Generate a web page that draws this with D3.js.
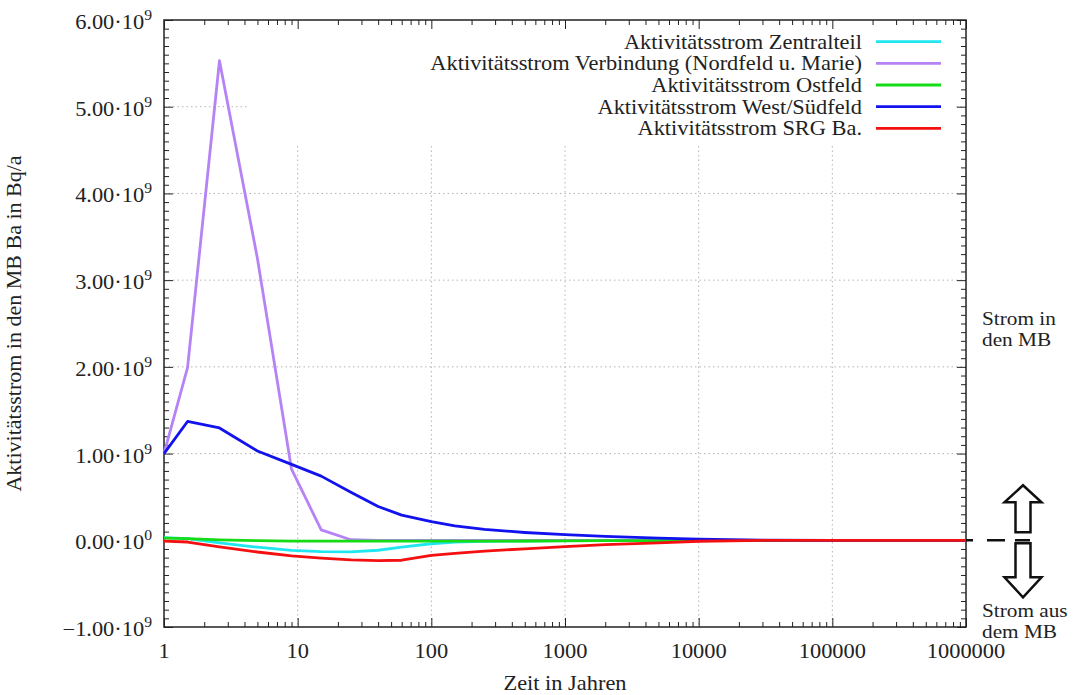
<!DOCTYPE html>
<html>
<head>
<meta charset="utf-8">
<script src="https://cdn.jsdelivr.net/npm/d3@7"></script>
<style>
body { margin: 0; background: #fff; }
text { font-family: "Liberation Serif", "Times New Roman", serif; fill: #222; }
.axis path { display: none; }
.axis line { stroke: #222; stroke-width: 1; }
.grid line { stroke: #b4b4b4; stroke-width: 1; stroke-dasharray: 1.5,3; }
.line { fill: none; stroke-width: 2.8; stroke-linejoin: round; }
</style>
</head>
<body>
<script>
// Zeit in Jahren
var years = [1, 1.5, 2.6, 5, 9, 15, 25, 40, 60, 100, 150, 250, 500, 1000, 2000, 5000, 10000, 30000, 100000, 1000000];
// Aktivitätsstrom in 1e9 Bq/a
var zentralteil = [0.03, 0.02, -0.03, -0.08, -0.117, -0.13, -0.133, -0.115, -0.08, -0.04, -0.02, -0.012, -0.008, -0.005, -0.003, -0.001, 0, 0, 0, 0];
var verbindung = [1.0, 1.99, 5.53, 3.25, 0.82, 0.12, 0.006, 0, 0, 0, 0, 0, 0, 0, 0, 0, 0, 0, 0, 0];
var ostfeld = [0.025, 0.02, 0.005, -0.005, -0.01, -0.01, -0.01, -0.01, -0.01, -0.01, -0.01, -0.01, -0.008, -0.006, -0.005, -0.003, -0.001, 0, 0, 0];
var westSued = [1.0, 1.37, 1.295, 1.03, 0.875, 0.74, 0.555, 0.39, 0.29, 0.215, 0.165, 0.125, 0.09, 0.065, 0.045, 0.025, 0.013, 0.002, 0, 0];
var srgBa = [-0.01, -0.02, -0.075, -0.135, -0.18, -0.205, -0.225, -0.235, -0.23, -0.175, -0.15, -0.125, -0.098, -0.072, -0.05, -0.029, -0.011, 0, 0, 0];

var seriesNames = ["Aktivitätsstrom Zentralteil", "Aktivitätsstrom Verbindung (Nordfeld u. Marie)",
    "Aktivitätsstrom Ostfeld", "Aktivitätsstrom West/Südfeld", "Aktivitätsstrom SRG Ba."];
var seriesValues = [zentralteil, verbindung, ostfeld, westSued, srgBa];
var seriesColors = ["#20e6f0", "#b683f5", "#16dc16", "#1212ee", "#f41010"];

var xTicks = [1, 10, 100, 1000, 10000, 100000, 1000000];
var xTickLabels = ["1", "10", "100", "1000", "10000", "100000", "1000000"];
var yTicks = [-1, 0, 1, 2, 3, 4, 5, 6];
var yTickLabels = ["\u22121.00\u00b710", "0.00\u00b710", "1.00\u00b710", "2.00\u00b710", "3.00\u00b710", "4.00\u00b710", "5.00\u00b710", "6.00\u00b710"];
var yTickExp = ["9", "0", "9", "9", "9", "9", "9", "9"];

var W = 1073, H = 695;
var margin = {top: 20, right: 107, bottom: 68, left: 164}
    , width = W - margin.left - margin.right
    , height = H - margin.top - margin.bottom;
var SX = 1.12, FS = 20;

var svg = d3.select("body").append("svg")
    .attr("width", W)
    .attr("height", H)
    .append("g")
    .attr("transform", "translate(" + margin.left + "," + margin.top + ")");

var x = d3.scaleLog().domain([1, 1000000]).range([0, width]);
var y = d3.scaleLinear().domain([-1, 6]).range([height, 0]);

// horizontally stretched serif text like the original
function stext(parent, px, py, anchor, size) {
    return parent.append("text")
        .attr("transform", "translate(" + px + "," + py + ") scale(" + SX + ",1)")
        .attr("text-anchor", anchor)
        .style("font-size", size + "px");
}

// grid
svg.append("g").attr("class", "grid").selectAll("line")
    .data(xTicks.slice(1, -1)).enter().append("line")
    .attr("x1", function(d) { return x(d); })
    .attr("x2", function(d) { return x(d); })
    .attr("y1", 0).attr("y2", height);
svg.append("g").attr("class", "grid").selectAll("line")
    .data(yTicks.slice(1, -1)).enter().append("line")
    .attr("x1", 0).attr("x2", width)
    .attr("y1", function(d) { return y(d); })
    .attr("y2", function(d) { return y(d); });

// legend box hides the grid
svg.append("rect")
    .attr("x", 83).attr("y", 0)
    .attr("width", 708).attr("height", 123)
    .attr("fill", "#fff");

// ticks (inward, mirrored)
var xMinor = [];
xTicks.slice(0, -1).forEach(function(t) {
    for (var m = 2; m <= 9; m++) xMinor.push(t * m);
});
var yMinor = d3.range(-10, 61).map(function(i) { return i / 10; })
    .filter(function(v) { return Math.abs(v - Math.round(v)) > 1e-9; });

svg.append("g").attr("class", "axis").attr("transform", "translate(0," + height + ")")
    .call(d3.axisBottom(x).tickValues(xTicks).tickSize(-9).tickFormat(""));
svg.append("g").attr("class", "axis").attr("transform", "translate(0," + height + ")")
    .call(d3.axisBottom(x).tickValues(xMinor).tickSize(-5).tickFormat(""));
svg.append("g").attr("class", "axis")
    .call(d3.axisTop(x).tickValues(xTicks).tickSize(-9).tickFormat(""));
svg.append("g").attr("class", "axis")
    .call(d3.axisTop(x).tickValues(xMinor).tickSize(-5).tickFormat(""));
svg.append("g").attr("class", "axis")
    .call(d3.axisLeft(y).tickValues(yTicks).tickSize(-9).tickFormat(""));
svg.append("g").attr("class", "axis")
    .call(d3.axisLeft(y).tickValues(yMinor).tickSize(-5).tickFormat(""));
svg.append("g").attr("class", "axis").attr("transform", "translate(" + width + ",0)")
    .call(d3.axisRight(y).tickValues(yTicks).tickSize(-9).tickFormat(""));
svg.append("g").attr("class", "axis").attr("transform", "translate(" + width + ",0)")
    .call(d3.axisRight(y).tickValues(yMinor).tickSize(-5).tickFormat(""));

svg.append("rect")
    .attr("width", width).attr("height", height)
    .attr("fill", "none").attr("stroke", "#222").attr("stroke-width", 1.5);

// tick labels
xTicks.forEach(function(t, i) {
    stext(svg, x(t), height + 31, "middle", FS).text(xTickLabels[i]);
});
yTicks.forEach(function(v, i) {
    var t = stext(svg, -12, y(v) + 9, "end", FS);
    t.append("tspan").text(yTickLabels[i]);
    t.append("tspan").attr("dy", -9).style("font-size", "14px").text(yTickExp[i]);
});

// axis titles
stext(svg, width / 2, height + 63, "middle", FS).text("Zeit in Jahren");
svg.append("text")
    .attr("transform", "translate(-143," + (y(2.5)) + ") rotate(-90)")
    .attr("text-anchor", "middle")
    .style("font-size", "22px")
    .text("Aktivitätsstrom in den MB Ba in Bq/a");

// curves
var line = d3.line()
    .x(function(d) { return x(d[0]); })
    .y(function(d) { return y(d[1]); });

svg.selectAll(".line")
    .data(seriesValues)
    .enter()
    .append("path")
    .attr("class", "line")
    .attr("d", function(d) { return line(d.map(function(v, i) { return [years[i], v]; })); })
    .attr("stroke", function(d, i) { return seriesColors[i]; });

// legend
seriesNames.forEach(function(name, i) {
    var ly = 21.7 + i * 21.65;
    stext(svg, 698, ly + 7, "end", FS).text(name);
    svg.append("line")
        .attr("x1", 712).attr("x2", 777)
        .attr("y1", ly).attr("y2", ly)
        .attr("stroke", seriesColors[i]).attr("stroke-width", 2.8);
});

// flow direction annotation right of the plot
var y0 = y(0), ax = width + 57;
svg.append("line")
    .attr("x1", width).attr("x2", width + 64)
    .attr("y1", y0).attr("y2", y0)
    .attr("stroke", "#111").attr("stroke-width", 2.5)
    .attr("stroke-dasharray", "7,14,18,10,15");
var up = [[ax, y0 - 55], [ax + 18.5, y0 - 38], [ax + 7.5, y0 - 38], [ax + 7.5, y0 - 8],
          [ax - 7.5, y0 - 8], [ax - 7.5, y0 - 38], [ax - 18.5, y0 - 38]];
var down = [[ax, y0 + 57], [ax + 18.5, y0 + 37], [ax + 7.5, y0 + 37], [ax + 7.5, y0 + 3],
            [ax - 7.5, y0 + 3], [ax - 7.5, y0 + 37], [ax - 18.5, y0 + 37]];
[up, down].forEach(function(p) {
    svg.append("path")
        .attr("d", "M" + p.join("L") + "Z")
        .attr("fill", "#fff").attr("stroke", "#111")
        .attr("stroke-width", 2.5).attr("stroke-linejoin", "miter");
});
stext(svg, width + 16, 305, "start", 19).text("Strom in");
stext(svg, width + 16, 326, "start", 19).text("den MB");
stext(svg, width + 16, 597, "start", 19).text("Strom aus");
stext(svg, width + 16, 618, "start", 19).text("dem MB");
</script>
</body>
</html>
